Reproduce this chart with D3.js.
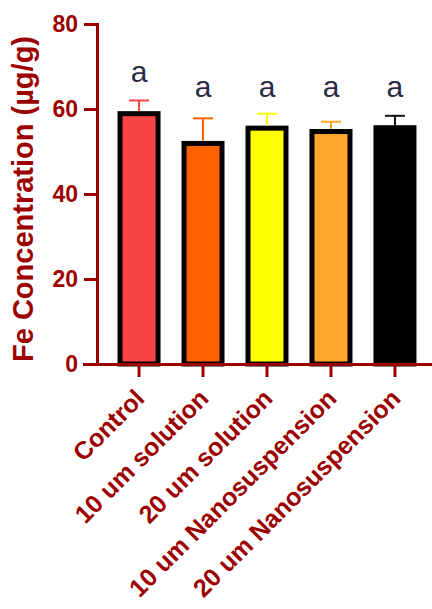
<!DOCTYPE html>
<meta charset="utf-8">
<script src="https://d3js.org/d3.v7.min.js"></script>
<style>
  body { margin: 0; background: #fff; }
  text { font-family: "Liberation Sans", Arial, sans-serif; }
</style>
<div id="chart"></div>
<script>

// data
var groups = ["Control", "10 um solution", "20 um solution", "10 um Nanosuspension", "20 um Nanosuspension"];
var means = [58.9, 51.9, 55.5, 54.7, 55.6];
var sds = [3.1, 5.9, 3.4, 2.3, 2.8];
var letters = ["a", "a", "a", "a", "a"];
var letterPos = [66.4, 62.8, 62.8, 62.8, 62.8];
var yTicks = [0, 20, 40, 60, 80];
var fills = ["#f94346", "#ff6100", "#ffff00", "#ffa62b", "#000000"];

var axisColor = "#9c0000";
var font = "Liberation Sans, Arial, sans-serif";
var width = 432, height = 609;

var svg = d3.select("#chart")
  .append("svg")
  .attr("width", width)
  .attr("height", height);

var y = d3.scaleLinear().domain([0, 80]).range([364, 24]);
var x = d3.scaleBand()
  .domain(groups)
  .range([97, 437])
  .paddingInner(0.406)
  .paddingOuter(0.36);

// bars
svg.selectAll(".bar")
  .data(groups)
  .enter()
  .append("rect")
  .attr("class", "bar")
  .attr("x", function(d) { return x(d); })
  .attr("width", x.bandwidth())
  .attr("y", function(d, i) { return y(means[i]); })
  .attr("height", function(d, i) { return y(0) - y(means[i]); })
  .attr("fill", function(d, i) { return fills[i]; })
  .attr("stroke", "#000")
  .attr("stroke-width", 5);

// error bars (upper only)
var err = svg.selectAll(".err")
  .data(groups)
  .enter()
  .append("g")
  .attr("class", "err")
  .attr("stroke", function(d, i) { return fills[i] == "#000000" ? "#111" : fills[i]; })
  .attr("stroke-width", 2);

err.append("line")
  .attr("x1", function(d) { return x(d) + x.bandwidth() / 2; })
  .attr("x2", function(d) { return x(d) + x.bandwidth() / 2; })
  .attr("y1", function(d, i) { return y(means[i]) - 2.5; })
  .attr("y2", function(d, i) { return y(means[i] + sds[i]); });

err.append("line")
  .attr("x1", function(d) { return x(d) + x.bandwidth() / 2 - 10; })
  .attr("x2", function(d) { return x(d) + x.bandwidth() / 2 + 10; })
  .attr("y1", function(d, i) { return y(means[i] + sds[i]); })
  .attr("y2", function(d, i) { return y(means[i] + sds[i]); });

// significance letters
svg.selectAll(".letter")
  .data(groups)
  .enter()
  .append("text")
  .attr("class", "letter")
  .attr("x", function(d) { return x(d) + x.bandwidth() / 2; })
  .attr("y", function(d, i) { return y(letterPos[i]); })
  .attr("text-anchor", "middle")
  .attr("font-family", font)
  .attr("font-size", 30)
  .attr("fill", "#2a2b45")
  .text(function(d, i) { return letters[i]; });

// y axis
var yAxis = svg.append("g")
  .attr("transform", "translate(97,0)")
  .call(d3.axisLeft(y).tickValues(yTicks).tickSize(13).tickPadding(6));

// x axis
var xAxis = svg.append("g")
  .attr("transform", "translate(0,364)")
  .call(d3.axisBottom(x).tickSize(13).tickSizeOuter(0).tickFormat(""));

[yAxis, xAxis].forEach(function(a) {
  a.selectAll("path, line")
    .attr("stroke", axisColor)
    .attr("stroke-width", 3);
});
xAxis.select(".domain").attr("d", "M83,0.5H432");

yAxis.selectAll("text")
  .attr("fill", axisColor)
  .attr("font-size", 23)
  .attr("font-weight", "bold")
  .attr("font-family", font);

// rotated category labels
svg.selectAll(".xlab")
  .data(groups)
  .enter()
  .append("text")
  .attr("class", "xlab")
  .attr("transform", function(d) {
    return "translate(" + (x(d) + x.bandwidth() / 2 + 7) + ",400) rotate(-45)";
  })
  .attr("text-anchor", "end")
  .attr("font-family", font)
  .attr("font-size", 25)
  .attr("font-weight", "bold")
  .attr("fill", axisColor)
  .text(function(d) { return d; });

// y title
svg.append("text")
  .attr("transform", "translate(33,199) rotate(-90)")
  .attr("text-anchor", "middle")
  .attr("font-family", font)
  .attr("font-size", 29)
  .attr("font-weight", "bold")
  .attr("fill", axisColor)
  .text("Fe Concentration (µg/g)");

</script>
